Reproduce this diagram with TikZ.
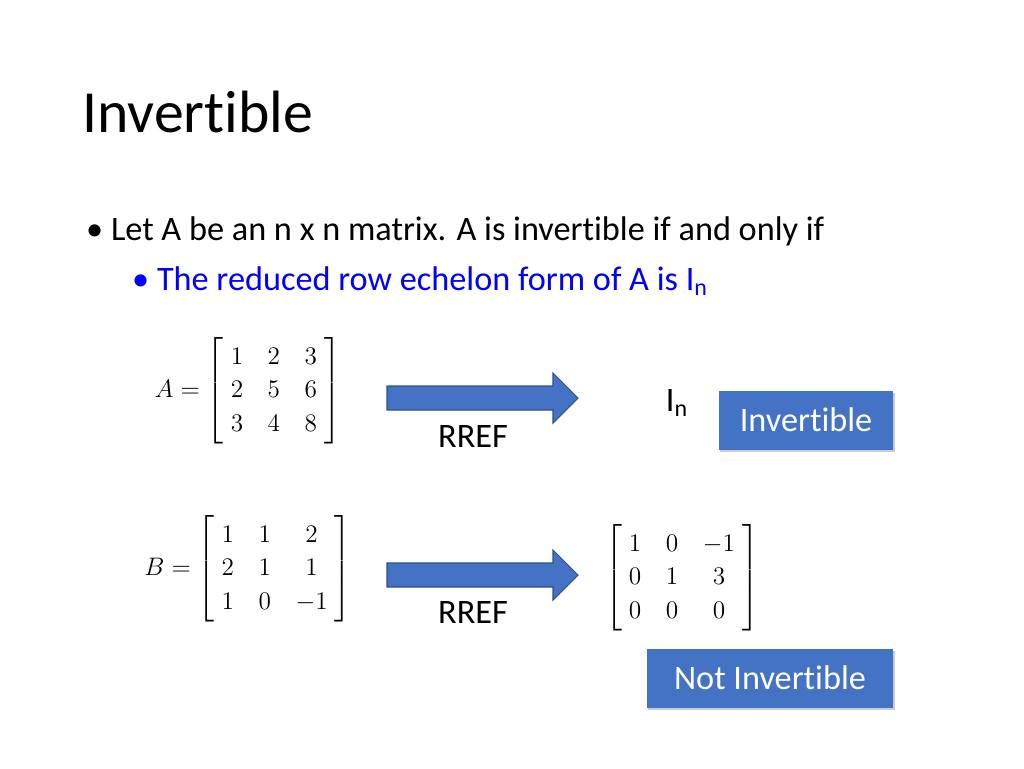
\documentclass[tikz,border=0pt]{standalone}
\usepackage{amsmath}
\usepackage{fontspec}
\setmainfont[Ligatures=NoCommon]{Carlito}
\usetikzlibrary{positioning, arrows.meta, calc, shadows}
\definecolor{accent}{HTML}{4472C4}
\definecolor{linkblue}{HTML}{0000FF}

\begin{document}
\begin{tikzpicture}[
    x=0.02cm, y=0.02cm,
    every node/.style={font=\fontsize{19.5}{23}\selectfont},
    fatarrow/.style={draw=accent!70!black, fill=accent, line width=0.6pt},
    result/.style={rectangle, fill=accent, text=white, drop shadow={opacity=0.4, shadow xshift=1pt, shadow yshift=-1.5pt}, minimum height=1.18cm, inner sep=4pt},
    mathbox/.style={font=\fontsize{15.5}{19}\selectfont}
]
    \useasboundingbox (0,0) rectangle (1024,-768);

    % Title and bullets
    \node[anchor=west, font=\fontsize{34}{40}\selectfont] (title) at (76,-112) {Invertible};
    \node[anchor=west] (bullet) at (80,-231) {• Let A be an n x n matrix. A is invertible if and only if};
    \node[anchor=west, text=linkblue] (sub) at (126,-281) {• The reduced row echelon form of A is I\textsubscript{n}};

    % Matrix A
    \node[mathbox] (matA) at (248,-391) {$A=\left[\;\begin{matrix}1&\;2\;&3\\2&\;5\;&6\\3&\;4\;&8\end{matrix}\;\right]$};
    \coordinate (arrA) at (387,-398);
    \draw[fatarrow] (arrA) ++(0,12) -- ++(166,0) -- ++(0,13) -- ++(25,-25) -- ++(-25,-25) -- ++(0,13) -- ++(-166,0) -- cycle;
    \node (rrefA) at (473,-436) {RREF};
    \node (iden) at (677,-403) {I\textsubscript{n}};
    \node[result, minimum width=3.5cm] (inv) at (806,-420) {Invertible};

    % Matrix B
    \node[mathbox] (matB) at (248,-569) {$B=\left[\;\begin{matrix}1&\;1\;&2\\2&\;1\;&1\\1&\;0\;&-1\end{matrix}\;\right]$};
    \coordinate (arrB) at (387,-575);
    \draw[fatarrow] (arrB) ++(0,12) -- ++(166,0) -- ++(0,13) -- ++(25,-25) -- ++(-25,-25) -- ++(0,13) -- ++(-166,0) -- cycle;
    \node (rrefB) at (473,-612) {RREF};
    \node[mathbox] (matR) at (682,-578) {$\left[\;\begin{matrix}1&\;0\;&-1\\0&\;1\;&3\\0&\;0\;&0\end{matrix}\;\right]$};
    \node[result, minimum width=4.94cm] (notinv) at (770,-678) {Not Invertible};

\end{tikzpicture}
\end{document}
